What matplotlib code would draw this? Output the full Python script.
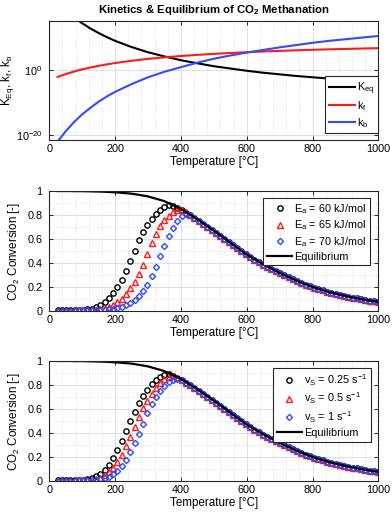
import numpy as np
import matplotlib
matplotlib.use("Agg")
import matplotlib.pyplot as plt
from matplotlib.ticker import MultipleLocator, FixedLocator, NullLocator

plt.rcParams['font.family'] = ['Liberation Sans', 'DejaVu Sans']
plt.rcParams['mathtext.fontset'] = 'custom'
plt.rcParams['mathtext.rm'] = 'Liberation Sans'
plt.rcParams['mathtext.it'] = 'Liberation Sans:italic'
plt.rcParams['mathtext.bf'] = 'Liberation Sans:bold'

# ---- top panel: rate / equilibrium constants (log10 values)
T_k = [25, 50, 75, 100, 125, 150, 175, 200, 250, 300, 350, 400, 450, 500,
       550, 600, 650, 700, 750, 800, 850, 900, 950, 1000]
log_Keq = [20.8, 18.4, 16.25, 14.4, 12.8, 11.4, 10.15, 9.0, 7.1, 5.5, 4.2, 3.05,
           2.1, 1.2, 0.5, -0.2, -0.8, -1.3, -1.8, -2.2, -2.6, -3.0, -3.3, -3.6]
log_kf = [-2.1, -1.2, -0.45, 0.22, 0.80, 1.31, 1.77, 2.18, 2.87, 3.45, 3.93, 4.34,
          4.69, 5.0, 5.27, 5.51, 5.73, 5.92, 6.09, 6.25, 6.39, 6.52, 6.64, 6.75]
log_kb = [-22.0, -18.8, -16.0, -13.6, -11.6, -9.7, -8.1, -6.7, -4.3, -2.2, -0.5, 0.9,
          2.3, 3.5, 4.5, 5.4, 6.2, 7.0, 7.7, 8.4, 9.0, 9.5, 10.0, 10.5]

# ---- conversion panels, temperatures of the simulated points
T_x = np.arange(25, 1001, 13)

X_eq = [1.000, 1.000, 1.000, 1.000, 0.999, 0.999, 0.999, 0.998, 0.997, 0.996,
        0.995, 0.994, 0.992, 0.990, 0.988, 0.985, 0.982, 0.979, 0.974, 0.968,
        0.962, 0.956, 0.946, 0.936, 0.926, 0.915, 0.898, 0.881, 0.864, 0.847,
        0.825, 0.802, 0.780, 0.757, 0.732, 0.708, 0.683, 0.658, 0.632, 0.606,
        0.580, 0.554, 0.528, 0.502, 0.476, 0.454, 0.433, 0.412, 0.392, 0.373,
        0.354, 0.335, 0.317, 0.300, 0.284, 0.268, 0.252, 0.237, 0.223, 0.209,
        0.196, 0.185, 0.174, 0.163, 0.153, 0.145, 0.136, 0.128, 0.120, 0.113,
        0.106, 0.099, 0.093, 0.087, 0.082, 0.077]

# shared high temperature part (kinetics follow equilibrium), T >= 415
tail = [0.820, 0.797, 0.775, 0.752, 0.727, 0.703, 0.678, 0.653, 0.627, 0.601,
        0.575, 0.549, 0.523, 0.497, 0.471, 0.449, 0.428, 0.407, 0.387, 0.368,
        0.349, 0.331, 0.313, 0.296, 0.280, 0.264, 0.249, 0.234, 0.220, 0.206,
        0.193, 0.182, 0.171, 0.161, 0.151, 0.143, 0.134, 0.127, 0.119, 0.112,
        0.105, 0.099, 0.093, 0.087, 0.082, 0.077]

X_ea60 = [0.005, 0.005, 0.005, 0.005, 0.006, 0.007, 0.009, 0.013, 0.019, 0.030,
          0.047, 0.072, 0.105, 0.148, 0.200, 0.262, 0.335, 0.415, 0.500, 0.590,
          0.660, 0.720, 0.770, 0.810, 0.845, 0.868, 0.882, 0.874, 0.858, 0.842] + tail
X_ea65 = [0.004, 0.004, 0.004, 0.004, 0.005, 0.005, 0.005, 0.006, 0.008, 0.011,
          0.016, 0.023, 0.034, 0.050, 0.072, 0.102, 0.140, 0.188, 0.245, 0.310,
          0.385, 0.475, 0.565, 0.640, 0.705, 0.755, 0.795, 0.825, 0.843, 0.842,
          0.822] + tail[1:]
X_ea70 = [0.004, 0.004, 0.004, 0.004, 0.004, 0.005, 0.005, 0.005, 0.006, 0.006,
          0.008, 0.010, 0.013, 0.018, 0.025, 0.035, 0.048, 0.066, 0.090, 0.122,
          0.165, 0.220, 0.290, 0.370, 0.455, 0.545, 0.625, 0.695, 0.750, 0.790,
          0.812, 0.798] + tail[2:]

X_v025 = [0.005, 0.005, 0.005, 0.005, 0.006, 0.007, 0.009, 0.014, 0.023, 0.038,
          0.060, 0.092, 0.135, 0.190, 0.258, 0.335, 0.418, 0.500, 0.578, 0.648,
          0.708, 0.760, 0.805, 0.842, 0.870, 0.887, 0.890, 0.876, 0.859, 0.842] + tail
X_v05 = [0.004, 0.004, 0.004, 0.004, 0.005, 0.005, 0.005, 0.007, 0.011, 0.018,
         0.029, 0.046, 0.072, 0.108, 0.157, 0.218, 0.290, 0.370, 0.452, 0.532,
         0.605, 0.670, 0.727, 0.777, 0.818, 0.850, 0.870, 0.872, 0.858, 0.842] + tail
X_v1 = [0.004, 0.004, 0.004, 0.004, 0.004, 0.005, 0.005, 0.005, 0.006, 0.009,
        0.014, 0.022, 0.035, 0.055, 0.084, 0.124, 0.176, 0.240, 0.313, 0.393,
        0.473, 0.565, 0.640, 0.702, 0.752, 0.792, 0.822, 0.842, 0.849, 0.838,
        0.820] + tail[1:]

lab_ea = ['E$_\\mathrm{a}$ = 60 kJ/mol', 'E$_\\mathrm{a}$ = 65 kJ/mol', 'E$_\\mathrm{a}$ = 70 kJ/mol']
lab_v = ['v$_\\mathrm{S}$ = 0.25 s$^\\mathrm{-1}$', 'v$_\\mathrm{S}$ = 0.5 s$^\\mathrm{-1}$',
         'v$_\\mathrm{S}$ = 1 s$^\\mathrm{-1}$']

RED = '#ff1a1a'
BLUE = '#2f4bff'
GRID = '#d5dbe2'
TICK_FS = 7.8
LABEL_FS = 8.4
LEG_FS = 7.8


def style(ax):
    ax.set_xlim(0, 1000)
    ax.xaxis.set_major_locator(MultipleLocator(200))
    ax.xaxis.set_minor_locator(MultipleLocator(40))
    ax.tick_params(which='both', direction='in', top=True, right=True, labelsize=TICK_FS,
                   color='#262626', width=0.7)
    ax.tick_params(which='major', length=3)
    ax.tick_params(which='minor', length=0)
    ax.tick_params(axis='y', pad=5)
    ax.tick_params(axis='x', pad=3)
    ax.grid(True, which='major', color=GRID, lw=0.6, ls='-')
    ax.grid(True, which='minor', color=GRID, lw=0.6, ls=':')
    ax.set_axisbelow(True)
    for s in ax.spines.values():
        s.set_color('#262626')
        s.set_linewidth(0.8)
    ax.set_xlabel('Temperature [°C]', fontsize=LABEL_FS, labelpad=1)


fig = plt.figure(figsize=(3.92, 5.14), dpi=100)
ax1 = fig.add_axes([0.1258, 0.7276, 0.8393, 0.2315])
ax2 = fig.add_axes([0.1258, 0.3949, 0.8393, 0.2335])
ax3 = fig.add_axes([0.1258, 0.0642, 0.8393, 0.2335])

# top panel
ax1.plot(T_k, 10.0 ** np.array(log_Keq), color='k', lw=1.5, label='K$_\\mathrm{eq}$')
ax1.plot(T_k, 10.0 ** np.array(log_kf), color=RED, lw=1.5, label='k$_\\mathrm{f}$')
ax1.plot(T_k, 10.0 ** np.array(log_kb), color=BLUE, lw=1.5, label='k$_\\mathrm{b}$')
ax1.set_yscale('log')
ax1.set_ylim(10 ** -21.5, 10 ** 15.1)
style(ax1)
ax1.yaxis.set_major_locator(FixedLocator([1e-20, 1e0]))
ax1.yaxis.set_minor_locator(NullLocator())
ax1.set_yticklabels(['$10^{-20}$', '$10^{0}$'])
ax1.set_ylabel('K$_\\mathrm{Eq}$, k$_\\mathrm{f}$, k$_\\mathrm{b}$', fontsize=LABEL_FS)
ax1.yaxis.set_label_coords(-0.100, 0.5)
ax1.set_title('Kinetics & Equilibrium of CO$_\\mathbf{2}$ Methanation',
              fontsize=8.2, fontweight='bold', pad=6)
leg = ax1.legend(loc='lower right', bbox_to_anchor=(1.0, 0.056), fontsize=LEG_FS,
                 frameon=True, fancybox=False, edgecolor='#262626', framealpha=1,
                 handlelength=2.4, handletextpad=0.2, labelspacing=0.25,
                 borderpad=0.35, borderaxespad=0)
leg.get_frame().set_linewidth(0.8)

# conversion panels
panels = [(ax2, [X_ea60, X_ea65, X_ea70], lab_ea, (0.975, 0.939), 0.25),
          (ax3, [X_v025, X_v05, X_v1], lab_v, (0.978, 0.939), 0.28)]
for ax, series, labels, anchor, spacing in panels:
    ax.plot(T_x, series[0], 'o', ms=3.8, mfc='none', mec='k', mew=1.0, label=labels[0])
    ax.plot(T_x, series[1], '^', ms=3.8, mfc='none', mec=RED, mew=1.0, label=labels[1])
    ax.plot(T_x, series[2], 'D', ms=3.1, mfc='none', mec=BLUE, mew=1.0, label=labels[2])
    ax.plot(T_x, X_eq, '-', color='k', lw=1.6, label='Equilibrium')
    ax.set_ylim(0, 1)
    style(ax)
    ax.yaxis.set_minor_locator(MultipleLocator(0.1))
    ax.set_yticks([0, 0.2, 0.4, 0.6, 0.8, 1.0])
    ax.set_yticklabels(['0', '0.2', '0.4', '0.6', '0.8', '1'])
    ax.set_ylabel('CO$_\\mathrm{2}$ Conversion [-]', fontsize=LABEL_FS)
    ax.yaxis.set_label_coords(-0.082, 0.5)
    lg = ax.legend(loc='upper right', bbox_to_anchor=anchor, fontsize=LEG_FS,
                   frameon=True, fancybox=False, edgecolor='#262626', framealpha=1,
                   handlelength=2.3, handletextpad=0.2, labelspacing=spacing,
                   borderpad=0.35, borderaxespad=0)
    lg.get_frame().set_linewidth(0.8)

fig.savefig('out.png', dpi=100)
